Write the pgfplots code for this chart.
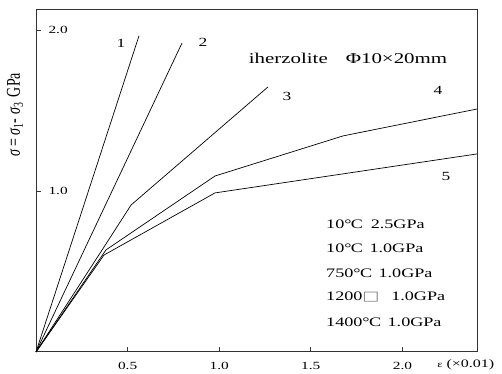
\documentclass[border=0pt]{standalone}
\usepackage{fontspec}
\setmainfont[FakeStretch=1.4]{Liberation Serif}
\newfontfamily\plainserif{Liberation Serif}
\newfontfamily\sym[FakeStretch=1.4]{DejaVu Sans}
\usepackage{graphicx}
\usepackage{pgfplots}
\pgfplotsset{compat=1.18}
\begin{document}
\begin{tikzpicture}
\begin{axis}[
 scale only axis, width=441bp, height=342.5bp,
 xmin=0, xmax=2.407, ymin=0, ymax=2.127,
 axis line style={black!80, line width=1bp},
 tick align=inside, tick pos=left,
 major tick length=5bp,
 tick style={black!80, line width=0.8bp},
 xtick={0.5,1,1.5,2}, ytick={1,2},
 tick label style={font=\fontsize{11}{13}\selectfont,
   /pgf/number format/fixed, /pgf/number format/fixed zerofill,
   /pgf/number format/precision=1, /pgf/number format/assume math mode=true},
 xticklabel style={yshift=-7bp},
 yticklabel style={anchor=west, xshift=9bp},
 clip=false,
]
\addplot[black, line width=0.7bp] coordinates {(0,0) (0.562,1.963)};
\addplot[black, line width=0.7bp] coordinates {(0,0) (0.797,1.919)};
\addplot[black, line width=0.7bp] coordinates {(0,0) (0.37,0.65) (0.519,0.913) (1.266,1.646)};
\addplot[black, line width=0.7bp] coordinates {(0,0) (0.382,0.634) (0.977,1.093) (1.676,1.342) (2.407,1.509)};
\addplot[black, line width=0.7bp] coordinates {(0,0) (0.371,0.602) (0.977,0.988) (2.407,1.230)};
\coordinate (sw) at (rel axis cs:0,0);
\coordinate (ne) at (rel axis cs:1,1);
\begin{scope}[every node/.style={font=\fontsize{12.5}{14}\selectfont, inner sep=0pt}]
\node at (axis cs:0.464,1.919) {1};
\node at (axis cs:0.912,1.925) {2};
\node at (axis cs:1.370,1.590) {3};
\node at (axis cs:2.194,1.627) {4};
\node at (axis cs:2.238,1.093) {5};
\end{scope}
\node[font=\fontsize{15}{17}\selectfont, inner sep=0pt] at (axis cs:1.703,1.826) {iherzolite\hspace{1.2em}Φ10×20mm};
\begin{scope}[every node/.style={font=\fontsize{13}{15}\selectfont, inner sep=0pt, anchor=west}]
\node at (axis cs:1.583,0.795) {10°\kern-0.05em C\hspace{0.6em}2.5GPa};
\node at (axis cs:1.583,0.646) {10°\kern-0.05em C\hspace{0.5em}1.0GPa};
\node at (axis cs:1.583,0.491) {750°\kern-0.05em C\hspace{0.5em}1.0GPa};
\node at (axis cs:1.583,0.342) {1200{\sym\color{gray}□}\hspace{0.9em}1.0GPa};
\node at (axis cs:1.583,0.186) {1400°\kern-0.05em C\hspace{0.5em}1.0GPa};
\end{scope}
\node[font=\fontsize{11.5}{13}\selectfont, inner sep=0pt, anchor=west] at (axis cs:2.189,-0.081) {{\fontsize{9}{10}\selectfont ε} (×0.01)};
\end{axis}
\node[rotate=90, inner sep=0pt, font=\plainserif\fontsize{14}{16}\selectfont] at ([shift={(-21bp,237bp)}]sw) {\scalebox{1}[1.4]{{\itshape σ} = {\itshape σ}\textsubscript{1}- {\itshape σ}\textsubscript{3}\hspace{0.4em}GPa}};
\pgfresetboundingbox
\path[use as bounding box] ([shift={(-36bp,-22bp)}]sw) rectangle ([shift={(25bp,9.5bp)}]ne);
\end{tikzpicture}
\end{document}
